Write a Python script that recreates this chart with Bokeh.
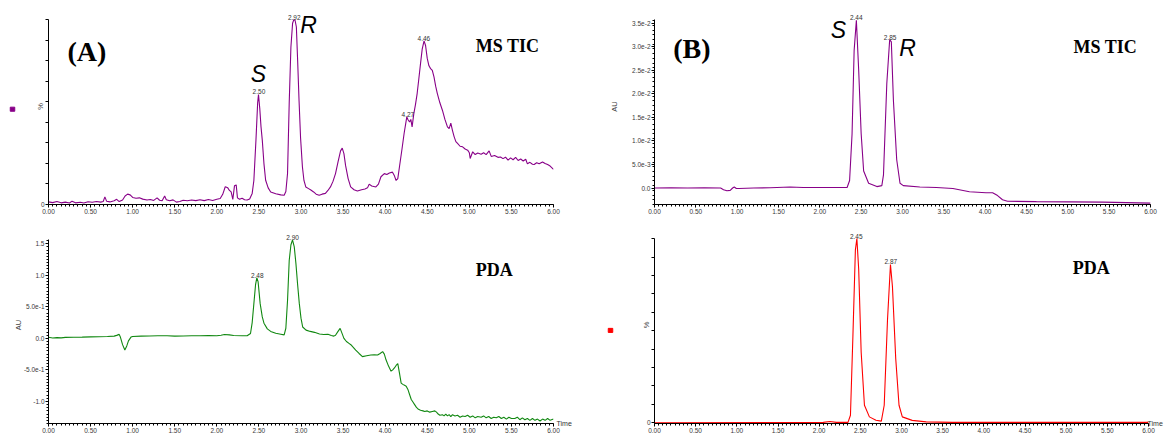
import numpy as np
from bokeh.plotting import figure
from bokeh.models import (Label, FixedTicker, NumeralTickFormatter, Range1d,
                          CustomJSTickFormatter, LinearAxis)
from bokeh.layouts import column, row
from bokeh.embed import file_html
from bokeh.resources import INLINE

# ---------------- data ----------------
# (A) MS TIC, relative intensity (%)
msA_time = [0.00, 0.05, 0.10, 0.15, 0.20, 0.25, 0.28, 0.32, 0.38, 0.42, 0.47, 0.52, 0.57, 0.62, 0.65,
            0.67, 0.69, 0.73, 0.78, 0.81, 0.84, 0.88, 0.91, 0.94, 0.97, 1.00, 1.04, 1.08, 1.12, 1.17,
            1.21, 1.25, 1.29, 1.32, 1.35, 1.38, 1.40, 1.44, 1.48, 1.52, 1.56, 1.60, 1.65, 1.70, 1.75,
            1.80, 1.85, 1.90, 1.95, 2.00, 2.04, 2.07, 2.10, 2.13, 2.15, 2.17, 2.19, 2.21, 2.23, 2.245,
            2.27, 2.30, 2.33, 2.36, 2.39, 2.42, 2.44, 2.465, 2.485, 2.495, 2.51, 2.525, 2.54, 2.56, 2.58,
            2.61, 2.64, 2.70, 2.76, 2.80, 2.82, 2.84, 2.86, 2.88, 2.90, 2.915, 2.93, 2.945, 2.96, 2.977,
            2.995, 3.017, 3.035, 3.057, 3.09, 3.117, 3.15, 3.18, 3.216, 3.25, 3.29, 3.32, 3.35, 3.38, 3.41,
            3.44, 3.47, 3.49, 3.51, 3.53, 3.56, 3.59, 3.63, 3.67, 3.72, 3.76, 3.79, 3.81, 3.84, 3.89,
            3.92, 3.95, 3.99, 4.02, 4.05, 4.087, 4.11, 4.13, 4.15, 4.17, 4.20, 4.225, 4.257, 4.27, 4.29,
            4.305, 4.32, 4.34, 4.36, 4.38, 4.40, 4.42, 4.44, 4.462, 4.48, 4.50, 4.52, 4.54, 4.56, 4.58,
            4.60, 4.62, 4.65, 4.68, 4.71, 4.74, 4.76, 4.78, 4.80, 4.82, 4.84, 4.86, 4.89, 4.92, 4.95,
            4.98, 5.00, 5.01, 5.04, 5.07, 5.10, 5.14, 5.17, 5.20, 5.235, 5.26, 5.30, 5.34, 5.37, 5.40,
            5.43, 5.46, 5.49, 5.52, 5.55, 5.58, 5.61, 5.64, 5.67, 5.69, 5.72, 5.75, 5.77, 5.80, 5.83,
            5.87, 5.90, 5.93, 5.96, 6.00]
msA_pct = [1.4, 1.0, 1.6, 0.9, 1.3, 0.8, 1.8, 0.9, 1.2, 0.8, 1.5, 1.2, 1.6, 1.3, 1.6,
           4.1, 1.8, 1.4, 2.0, 2.8, 1.6, 2.4, 4.6, 5.6, 5.2, 3.8, 3.4, 3.6, 2.9, 2.4,
           2.7, 2.2, 3.6, 2.3, 2.0, 4.6, 2.6, 2.0, 2.5, 1.3, 1.6, 2.3, 2.0, 2.4, 2.1,
           2.6, 2.1, 2.7, 2.2, 2.8, 3.2, 5.5, 9.6, 9.0, 7.6, 6.8, 2.8, 10.2, 10.6, 3.6,
           2.8, 3.4, 2.6, 2.4, 3.0, 6.0, 13.0, 35.0, 55.0, 59.5, 52.0, 42.0, 34.8, 22.0, 13.1,
           9.0, 6.8, 5.8, 5.2, 5.0, 7.0, 16.8, 55.0, 85.0, 98.0, 100.0, 99.5, 96.0, 78.0, 56.0,
           36.0, 20.3, 13.0, 9.5, 8.6, 7.8, 6.8, 5.6, 5.0, 5.6, 6.0, 7.6, 9.5, 12.5, 16.7,
           23.0, 29.0, 30.5, 27.5, 21.0, 14.0, 9.5, 8.0, 7.3, 8.0, 8.4, 9.0, 11.0, 10.0, 9.5,
           11.0, 15.0, 16.7, 16.2, 17.0, 17.5, 15.5, 13.0, 14.0, 20.4, 30.0, 38.4, 47.4, 46.0, 44.6,
           46.0, 42.0, 49.0, 54.0, 60.0, 68.0, 76.2, 84.0, 88.5, 86.0, 79.0, 75.0, 73.5, 72.5, 69.0,
           64.0, 60.0, 55.0, 51.0, 46.0, 42.0, 41.0, 44.0, 40.0, 36.6, 34.0, 33.0, 31.5, 31.2, 30.0,
           29.4, 28.0, 24.9, 28.5, 27.0, 27.8, 27.2, 28.0, 27.0, 29.0, 26.0, 26.5, 25.5, 25.7, 24.8,
           25.6, 24.0, 25.2, 24.2, 25.5, 23.8, 24.6, 23.5, 24.5, 22.0, 22.8, 21.8, 21.6, 22.6, 22.0,
           23.0, 22.2, 21.6, 20.8, 19.0]
msA_peaks = ["2.50", "2.92", "4.27", "4.46"]

# (A) PDA, absorbance (AU)
pdaA_time = [0.00, 0.05, 0.10, 0.15, 0.20, 0.30, 0.40, 0.50, 0.60, 0.70, 0.78, 0.81, 0.84, 0.855, 0.88,
             0.907, 0.93, 0.95, 0.98, 1.00, 1.10, 1.20, 1.30, 1.41, 1.50, 1.60, 1.70, 1.80, 1.90, 2.00,
             2.05, 2.09, 2.15, 2.20, 2.30, 2.36, 2.40, 2.42, 2.44, 2.46, 2.475, 2.49, 2.515, 2.54, 2.56,
             2.60, 2.64, 2.70, 2.76, 2.80, 2.82, 2.84, 2.86, 2.88, 2.899, 2.92, 2.94, 2.96, 2.98, 3.00,
             3.02, 3.06, 3.11, 3.16, 3.22, 3.27, 3.32, 3.36, 3.39, 3.41, 3.44, 3.465, 3.49, 3.51, 3.54,
             3.57, 3.60, 3.65, 3.69, 3.73, 3.78, 3.83, 3.87, 3.91, 3.94, 3.97, 3.99, 4.01, 4.04, 4.07,
             4.09, 4.11, 4.13, 4.15, 4.17, 4.19, 4.21, 4.23, 4.25, 4.27, 4.29, 4.31, 4.33, 4.35, 4.37,
             4.39, 4.42, 4.45, 4.47, 4.50, 4.53, 4.56, 4.59, 4.61, 4.63, 4.65, 4.68, 4.70, 4.72, 4.74,
             4.76, 4.78, 4.80, 4.83, 4.86, 4.89, 4.92, 4.95, 4.98, 5.01, 5.04, 5.07, 5.10, 5.14, 5.17,
             5.20, 5.23, 5.26, 5.29, 5.32, 5.35, 5.38, 5.41, 5.44, 5.47, 5.50, 5.54, 5.57, 5.60, 5.63,
             5.66, 5.69, 5.72, 5.75, 5.78, 5.81, 5.84, 5.87, 5.90, 5.93, 5.96, 6.00]
pdaA_au = [0.016, 0.005, 0.012, 0.008, 0.015, 0.018, 0.020, 0.024, 0.026, 0.030, 0.035, 0.047, 0.063, 0.016, -0.10,
           -0.185, -0.12, -0.04, 0.02, 0.03, 0.035, 0.038, 0.040, 0.040, 0.035, 0.038, 0.040, 0.042, 0.045, 0.040,
           0.050, 0.060, 0.055, 0.045, 0.040, 0.040, 0.077, 0.25, 0.55, 0.85, 0.96, 0.90, 0.55, 0.34, 0.24,
           0.15, 0.11, 0.08, 0.065, 0.055, 0.16, 0.60, 1.235, 1.48, 1.56, 1.45, 1.18, 0.85, 0.55, 0.32,
           0.18, 0.13, 0.11, 0.095, 0.07, 0.06, 0.065, 0.045, 0.035, 0.05, 0.11, 0.158, 0.07, 0.0, -0.05,
           -0.08, -0.11, -0.185, -0.24, -0.29, -0.275, -0.265, -0.26, -0.265, -0.24, -0.21, -0.25, -0.34, -0.44, -0.52,
           -0.50, -0.47, -0.43, -0.40, -0.55, -0.71, -0.73, -0.745, -0.76, -0.81, -0.89, -0.97, -1.01, -1.05, -1.09,
           -1.12, -1.14, -1.15, -1.16, -1.15, -1.17, -1.16, -1.15, -1.17, -1.20, -1.22, -1.21, -1.23, -1.20, -1.23,
           -1.21, -1.24, -1.21, -1.23, -1.22, -1.25, -1.23, -1.24, -1.22, -1.25, -1.23, -1.26, -1.24, -1.25, -1.23,
           -1.26, -1.24, -1.27, -1.25, -1.26, -1.24, -1.27, -1.25, -1.28, -1.25, -1.27, -1.27, -1.25, -1.29, -1.26,
           -1.29, -1.27, -1.30, -1.27, -1.30, -1.28, -1.31, -1.28, -1.30, -1.27, -1.30, -1.28]
pdaA_peaks = ["2.48", "2.90"]

# (B) MS TIC, AU
msB_time = [0.00, 0.20, 0.40, 0.60, 0.80, 0.835, 0.876, 0.916, 0.945, 0.965, 0.99, 1.02, 1.20, 1.40, 1.64,
            1.80, 2.05, 2.33, 2.36, 2.39, 2.415, 2.442, 2.47, 2.50, 2.53, 2.59, 2.69, 2.75, 2.77, 2.81,
            2.845, 2.865, 2.89, 2.93, 2.97, 3.01, 3.21, 3.41, 3.61, 3.81, 4.01, 4.09, 4.15, 4.21, 4.27,
            4.62, 5.42, 6.00]
msB_au = [0.0, 0.00002, 0.0, 0.00005, 0.0, -0.00035, -0.0006, -0.0005, 0.0, 0.0002, -0.0001, -0.0001, 0.0, 0.00005, 0.0002,
          0.0001, 0.0001, 0.0001, 0.0016, 0.0115, 0.0292, 0.0356, 0.025, 0.0115, 0.0036, 0.0010, 0.0003, 0.0005, 0.0028, 0.0221,
          0.0315, 0.031, 0.0186, 0.006, 0.0010, 0.0005, 0.0002, 0.0001, -0.0001, -0.0008, -0.0010, -0.0010, -0.0016, -0.0025, -0.0028,
          -0.0029, -0.0030, -0.0032]
msB_peaks = ["2.44", "2.85"]

# (B) PDA, relative (%)
pdaB_time = [0.00, 2.05, 2.13, 2.21, 2.35, 2.38, 2.41, 2.44, 2.458, 2.48, 2.51, 2.55, 2.61, 2.69, 2.755,
             2.79, 2.83, 2.866, 2.89, 2.93, 2.97, 3.01, 3.13, 3.30, 3.62, 6.00]
pdaB_pct = [0.0, 0.2, 0.7, 0.2, 0.2, 4.1, 47.4, 94.0, 100.0, 83.4, 38.4, 9.5, 3.2, 1.4, 0.9,
            9.5, 56.0, 86.0, 74.0, 34.8, 9.5, 3.2, 1.3, 0.5, 0.2, 0.2]
pdaB_peaks = ["2.45", "2.87"]

x_major = [0.0, 0.5, 1.0, 1.5, 2.0, 2.5, 3.0, 3.5, 4.0, 4.5, 5.0, 5.5, 6.0]

PURPLE = "#880088"
GREEN = "#118811"
RED = "#ff0000"
TICK_COL = "#3a3a3a"

sci_fmt = CustomJSTickFormatter(code="""
if (Math.abs(tick) < 1e-12) return "0.0";
if (Math.abs(tick) >= 1) return tick.toFixed(1);
return tick.toExponential(1);
""")
zero_only = CustomJSTickFormatter(code="return Math.abs(tick) < 1e-9 ? '0' : '';")
time_fmt = CustomJSTickFormatter(code="return 'Time';")


def make_fig(width, height, yr, ybounds, left, right, top, bottom):
    p = figure(width=width, height=height, x_range=Range1d(0, 6), y_range=yr,
               output_backend="svg", toolbar_location=None,
               min_border_left=left, min_border_right=right,
               min_border_top=top, min_border_bottom=bottom)
    p.outline_line_color = None
    p.xgrid.visible = False
    p.ygrid.visible = False
    p.background_fill_color = "white"
    p.border_fill_color = "white"
    xa = p.xaxis[0]
    xa.ticker = FixedTicker(ticks=x_major, minor_ticks=list(np.arange(0, 6.0001, 0.05)))
    xa.formatter = NumeralTickFormatter(format="0.00")
    xa.bounds = (0, 6)
    xa.major_label_text_font_size = "6.5px"
    xa.major_label_text_font = "Liberation Sans"
    xa.major_label_text_color = TICK_COL
    xa.major_tick_out = 3
    xa.major_tick_in = 0
    xa.minor_tick_out = 2
    xa.minor_tick_in = 0
    xa.major_label_standoff = 1
    xa.axis_line_color = "black"
    ya = p.yaxis[0]
    ya.bounds = ybounds
    ya.major_label_text_font_size = "6.5px"
    ya.major_label_text_font = "Liberation Sans"
    ya.major_label_text_color = TICK_COL
    ya.major_tick_out = 3
    ya.major_tick_in = 0
    ya.minor_tick_out = 2
    ya.minor_tick_in = 0
    ya.major_label_standoff = 1
    ya.axis_label_text_font = "Liberation Sans"
    ya.axis_label_text_font_style = "normal"
    ya.axis_label_text_font_size = "7.5px"
    ya.axis_label_text_color = "#444444"
    ya.axis_label_standoff = 1
    return p


def add_time_axis(p, y_at, y_hi, standoff):
    # a label-only axis on the right, used to write the x-axis title "Time" beside its end
    ax = LinearAxis(ticker=FixedTicker(ticks=[y_at], minor_ticks=[]), formatter=time_fmt,
                    bounds=(y_at, y_hi), axis_line_color=None,
                    major_tick_line_color=None, minor_tick_line_color=None,
                    major_tick_out=0, major_tick_in=0, minor_tick_out=0, minor_tick_in=0,
                    major_label_standoff=standoff, major_label_text_font_size="7px",
                    major_label_text_font="Liberation Sans", major_label_text_color="#333333")
    p.add_layout(ax, "right")


def square_fig(width, height, cx, cy, color):
    s = figure(width=width, height=height, x_range=Range1d(0, width), y_range=Range1d(height, 0),
               output_backend="svg", toolbar_location=None, x_axis_location=None,
               y_axis_location=None, min_border=0)
    s.outline_line_color = None
    s.xgrid.visible = False
    s.ygrid.visible = False
    s.rect(x=[cx], y=[cy], width=4.5, height=4.5, color=color)
    return s


def add_label(p, x, y, text, size, font="Liberation Sans", style="normal", align="left",
              baseline="middle", color="black"):
    p.add_layout(Label(x=x, y=y, text=text, text_font=font, text_font_size=size,
                       text_font_style=style, text_align=align, text_baseline=baseline,
                       text_color=color))


def add_peak_labels(p, t, v, labels):
    t = np.asarray(t, dtype=float)
    v = np.asarray(v, dtype=float)
    for lab in labels:
        rt = float(lab)
        m = np.abs(t - rt) <= 0.03
        idx = np.where(m)[0][np.argmax(v[m])]
        add_label(p, rt, v[idx], lab, "6.5px", align="center", baseline="bottom", color="#333333")


# ---------------- (A) MS TIC ----------------
pA1 = make_fig(552, 216, Range1d(0, 106.0), (0, 100), 18, 29, 8, 12)
pA1.line(msA_time, msA_pct, color=PURPLE, line_width=1.1)
pA1.yaxis[0].ticker = FixedTicker(ticks=list(np.linspace(0, 100, 10)), minor_ticks=[])
pA1.yaxis[0].formatter = zero_only
pA1.yaxis[0].axis_label = "%"
pA1.yaxis[0].axis_label_standoff = -7
add_peak_labels(pA1, msA_time, msA_pct, msA_peaks)
add_label(pA1, 0.226, 82.6, "(A)", "28px", font="Liberation Serif", style="bold")
add_label(pA1, 2.495, 70.8, "S", "23px", style="italic", align="center")
add_label(pA1, 3.09, 97.0, "R", "23px", style="italic", align="center")
add_label(pA1, 5.077, 85.6, "MS TIC", "18px", font="Liberation Serif", style="bold")
sqA = square_fig(30, 216, 12, 111, PURPLE)

# ---------------- (A) PDA ----------------
pA2 = make_fig(582, 219, Range1d(-1.35, 1.773), (-1.35, 1.57), 48, 29, 10, 11)
pA2.line(pdaA_time, pdaA_au, color=GREEN, line_width=1.1)
pA2.yaxis[0].ticker = FixedTicker(ticks=[-1.0, -0.5, 0.0, 0.5, 1.0, 1.5],
                                  minor_ticks=list(np.arange(-1.35, 1.571, 0.05)))
pA2.yaxis[0].formatter = sci_fmt
pA2.yaxis[0].axis_label = "AU"
pA2.yaxis[0].axis_label_standoff = -2
add_peak_labels(pA2, pdaA_time, pdaA_au, pdaA_peaks)
add_label(pA2, 5.077, 1.088, "PDA", "18px", font="Liberation Serif", style="bold")
add_time_axis(pA2, -1.348, -1.0, 3)

# ---------------- (B) MS TIC ----------------
pB1 = make_fig(583, 216, Range1d(-0.0035, 0.03808), (-0.0035, 0.0358), 72, 15, 8, 12)
pB1.line(msB_time, msB_au, color=PURPLE, line_width=1.1)
pB1.yaxis[0].ticker = FixedTicker(ticks=[0.0, 0.005, 0.01, 0.015, 0.02, 0.025, 0.03, 0.035],
                                  minor_ticks=list(np.arange(-0.0035, 0.0358, 0.001)))
pB1.yaxis[0].formatter = sci_fmt
pB1.yaxis[0].axis_label = "AU"
pB1.yaxis[0].axis_label_standoff = 10
add_peak_labels(pB1, msB_time, msB_au, msB_peaks)
add_label(pB1, 0.226, 0.0296, "(B)", "28px", font="Liberation Serif", style="bold")
add_label(pB1, 2.224, 0.03345, "S", "23px", style="italic", align="center")
add_label(pB1, 3.06, 0.0298, "R", "23px", style="italic", align="center")
add_label(pB1, 5.069, 0.0299, "MS TIC", "18px", font="Liberation Serif", style="bold")

# ---------------- (B) PDA ----------------
pB2 = make_fig(543, 219, Range1d(-0.4, 106.6), (-0.4, 100), 32, 15, 10, 11)
pB2.line(pdaB_time, pdaB_pct, color=RED, line_width=1.1)
pB2.yaxis[0].ticker = FixedTicker(ticks=list(np.arange(0, 101, 10)), minor_ticks=[])
pB2.yaxis[0].formatter = zero_only
pB2.yaxis[0].axis_label = "%"
pB2.yaxis[0].axis_label_standoff = -7
add_peak_labels(pB2, pdaB_time, pdaB_pct, pdaB_peaks)
add_label(pB2, 5.081, 83.8, "PDA", "18px", font="Liberation Serif", style="bold")
add_time_axis(pB2, -0.38, 10.0, -1)
sqB = square_fig(40, 219, 28, 115.5, RED)

layout = column(row(sqA, pA1, pB1), row(pA2, sqB, pB2))
open("out.html", "w").write(file_html(layout, INLINE))
